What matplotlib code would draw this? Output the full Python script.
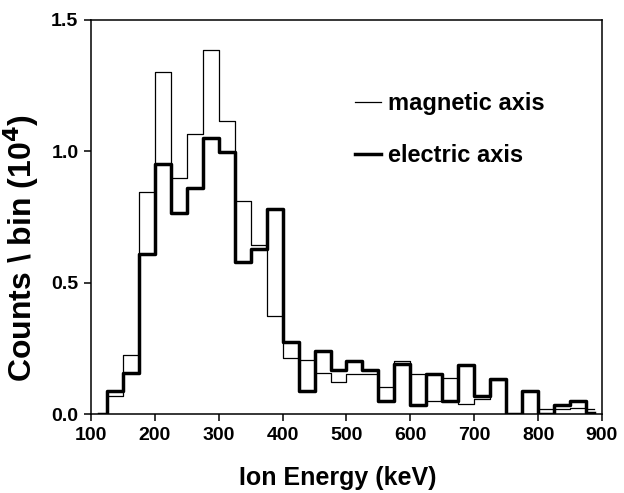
import numpy as np
import matplotlib
matplotlib.use("Agg")
import matplotlib.pyplot as plt

plt.rcParams['font.family'] = ['Liberation Sans', 'DejaVu Sans']
plt.rcParams['font.weight'] = 'bold'

# bin centres (keV), 25 keV wide
energy = np.arange(112.5, 900, 25)

# counts per bin (x 10^4)
magnetic = [0.0, 0.070, 0.224, 0.845, 1.302, 0.896, 1.066, 1.384, 1.115, 0.811,
            0.643, 0.374, 0.214, 0.205, 0.157, 0.121, 0.153, 0.153, 0.102, 0.201,
            0.153, 0.051, 0.136, 0.039, 0.058, 0.130, 0.0, 0.087, 0.020, 0.020,
            0.022, 0.020]
electric = [0.0, 0.089, 0.155, 0.608, 0.949, 0.763, 0.861, 1.051, 0.997, 0.577,
            0.627, 0.778, 0.273, 0.089, 0.241, 0.168, 0.201, 0.169, 0.051, 0.191,
            0.036, 0.153, 0.051, 0.187, 0.070, 0.134, 0.0, 0.087, 0.0, 0.036,
            0.051, 0.005]

fig = plt.figure(figsize=(6.24, 4.93), dpi=100)
ax = fig.add_axes([0.1458, 0.1602, 0.8189, 0.8002])

ax.step(energy, magnetic, where='mid', color='black', lw=0.9, label='magnetic axis')
ax.step(energy, electric, where='mid', color='black', lw=2.5, label='electric axis')

ax.set_xlim(100, 900)
ax.set_ylim(0, 1.5)
ax.set_xticks(range(100, 901, 100))
ax.set_yticks([0.0, 0.5, 1.0, 1.5])
ax.set_yticklabels(['0.0', '0.5', '1.0', '1.5'])
ax.tick_params(direction='out', length=5, width=1.1, labelsize=14, pad=4)
for s in ax.spines.values():
    s.set_linewidth(1.1)

ax.set_xlabel('Ion Energy (keV)', fontsize=18, fontweight='bold')
ax.xaxis.set_label_coords(0.482, -0.132)
ax.set_ylabel('Counts \\ bin (10$^\\mathbf{4}$)', fontsize=23, fontweight='bold')
ax.yaxis.set_label_coords(-0.098, 0.42)

ax.legend(loc='upper left', bbox_to_anchor=(0.517, 0.816), frameon=False, fontsize=17,
          borderpad=0, borderaxespad=0,
          handlelength=1.1, handletextpad=0.3, labelspacing=1.24)

fig.savefig('out.png', dpi=100)
